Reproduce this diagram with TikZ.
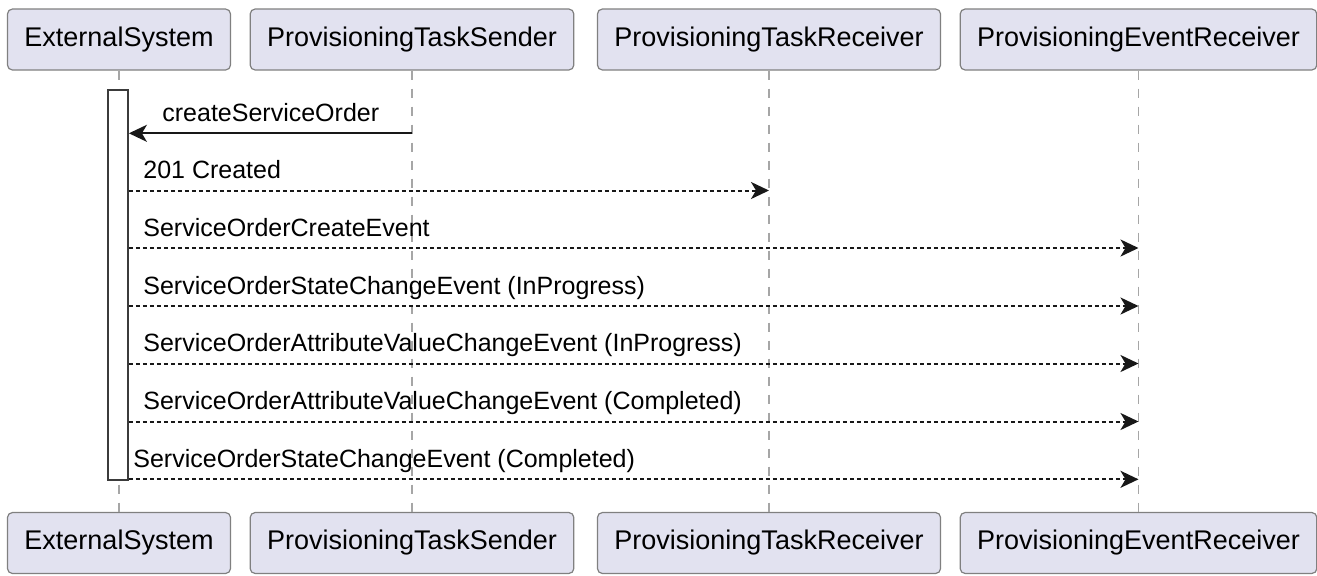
\documentclass[tikz,border=0pt]{standalone}
\usepackage{fontspec}
\setmainfont{Liberation Sans}
\usetikzlibrary{arrows.meta}
\definecolor{partfill}{HTML}{E2E2F0}
\definecolor{linedark}{HTML}{181818}

\begin{document}
\begin{tikzpicture}[x=0.5pt,y=-0.5pt,>={Stealth[length=9pt,width=8.5pt,inset=2.5pt]},
    part node/.style={draw=linedark!55,fill=partfill,rounded corners=2.5pt,line width=0.6pt,inner xsep=8.5pt,minimum height=30.5pt,font=\fontsize{13.5}{16}\selectfont},
    life line/.style={draw=black!35,line width=0.9pt,dash pattern=on 4.5pt off 4.5pt},
    sync msg/.style={->,draw=linedark,line width=1pt},
    reply msg/.style={->,draw=linedark,line width=1pt,dash pattern=on 2pt off 1.5pt},
    msg label/.style={anchor=base west,inner sep=0pt,font=\fontsize{12.5}{15}\selectfont}]
    \useasboundingbox (0,0) rectangle (1317,575);

    % participants, top and bottom
    \node[part node] (es) at (119,39.5) {ExternalSystem};
    \node[part node] (pts) at (412,39.5) {ProvisioningTaskSender};
    \node[part node] (ptr) at (769,39.5) {ProvisioningTaskReceiver};
    \node[part node] (per) at (1138.5,39.5) {ProvisioningEventReceiver};
    \node[part node] (es b) at (119,543) {ExternalSystem};
    \node[part node] (pts b) at (412,543) {ProvisioningTaskSender};
    \node[part node] (ptr b) at (769,543) {ProvisioningTaskReceiver};
    \node[part node] (per b) at (1138.5,543) {ProvisioningEventReceiver};

    \path[life line]
        (es) edge (es b)
        (pts) edge (pts b)
        (ptr) edge (ptr b)
        (per) edge (per b)
    ;

    % activation of ExternalSystem
    \node[draw=linedark!85,fill=white,line width=0.9pt,minimum width=10pt,minimum height=195pt,inner sep=0pt] (act) at (118,285) {};

    % messages
    \draw[sync msg] (pts |- 0,133.3) -- (act.east |- 0,133.3);
    \draw[reply msg] (act.east |- 0,190.5) -- (ptr |- 0,190.5);
    \draw[reply msg] (act.east |- 0,248) -- (per |- 0,248);
    \draw[reply msg] (act.east |- 0,306) -- (per |- 0,306);
    \draw[reply msg] (act.east |- 0,363.5) -- (per |- 0,363.5);
    \draw[reply msg] (act.east |- 0,421.5) -- (per |- 0,421.5);
    \draw[reply msg] (act.east |- 0,479.3) -- (per |- 0,479.3);

    \node[msg label] (l1) at (162,121.3) {createServiceOrder};
    \node[msg label] (l2) at (143,178.5) {201 Created};
    \node[msg label] (l3) at (143,236) {ServiceOrderCreateEvent};
    \node[msg label] (l4) at (143,294) {ServiceOrderStateChangeEvent (InProgress)};
    \node[msg label] (l5) at (143,351.5) {ServiceOrderAttributeValueChangeEvent (InProgress)};
    \node[msg label] (l6) at (143,409.5) {ServiceOrderAttributeValueChangeEvent (Completed)};
    \node[msg label] (l7) at (133,467.3) {ServiceOrderStateChangeEvent (Completed)};
\end{tikzpicture}
\end{document}
